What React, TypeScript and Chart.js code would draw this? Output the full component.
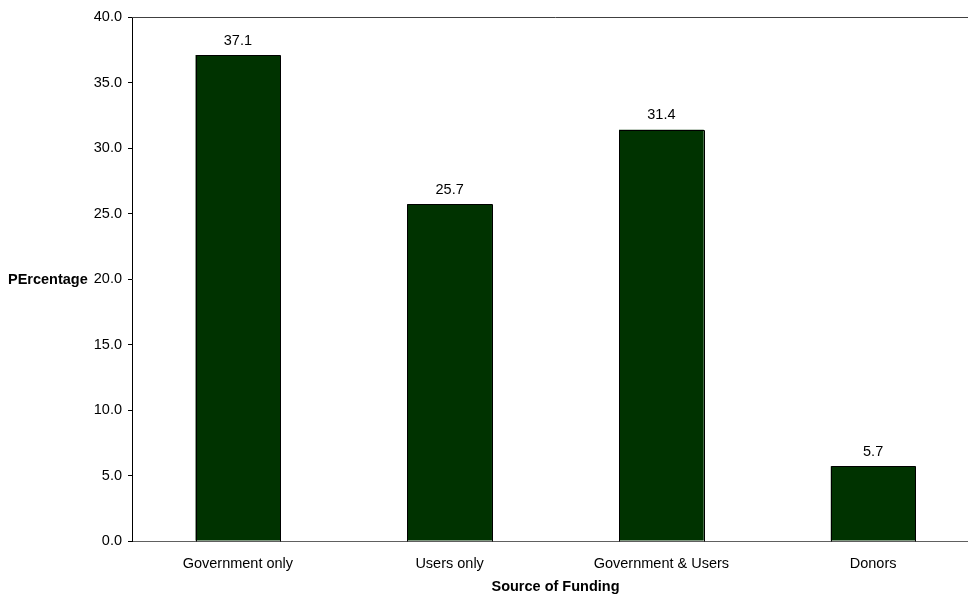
import React, { useEffect, useRef } from "react";
import { Chart, registerables } from "chart.js";

Chart.register(...registerables);

const categories = ["Government only", "Users only", "Government & Users", "Donors"];
const values = [37.1, 25.7, 31.4, 5.7];
const yTicks = [0, 5, 10, 15, 20, 25, 30, 35, 40];
const yTitle = "PErcentage";
const xTitle = "Source of Funding";

const FONT = "'Liberation Sans', Arial, sans-serif";
const FS = 14.5;

const extrasPlugin = {
  id: "extras",
  afterDatasetsDraw(chart: any) {
    const { ctx, chartArea } = chart;
    ctx.save();
    const meta = chart.getDatasetMeta(0);
    // crisp bar outlines
    ctx.strokeStyle = "#000";
    ctx.lineWidth = 1;
    meta.data.forEach((bar: any) => {
      const half = bar.width / 2;
      const l = Math.round(bar.x - half) + 0.5;
      const r = Math.round(bar.x + half) + 0.5;
      const t = Math.round(bar.y) + 0.5;
      const b = Math.round(bar.base) + 0.5;
      ctx.beginPath();
      ctx.moveTo(l, b);
      ctx.lineTo(l, t);
      ctx.lineTo(r, t);
      ctx.lineTo(r, b);
      ctx.stroke();
    });
    // top border
    ctx.strokeStyle = "#404040";
    ctx.beginPath();
    ctx.moveTo(chartArea.left, Math.round(chartArea.top) + 0.5);
    ctx.lineTo(chartArea.right, Math.round(chartArea.top) + 0.5);
    ctx.stroke();
    // value labels
    ctx.fillStyle = "#000";
    ctx.font = `${FS}px ${FONT}`;
    ctx.textAlign = "center";
    ctx.textBaseline = "bottom";
    meta.data.forEach((bar: any, i: number) => {
      ctx.fillText(values[i].toFixed(1), bar.x, bar.y - 7);
    });
    // y title
    const yScale = chart.scales.y;
    ctx.font = `bold ${FS}px ${FONT}`;
    ctx.textAlign = "left";
    ctx.textBaseline = "middle";
    ctx.fillText(yTitle, 8, yScale.getPixelForValue(20) + 1);
    // x title
    ctx.textAlign = "center";
    ctx.textBaseline = "middle";
    ctx.fillText(xTitle, (chartArea.left + chartArea.right) / 2, 587);
    ctx.restore();
  },
};

export default function App() {
  const ref = useRef<HTMLCanvasElement | null>(null);
  useEffect(() => {
    if (!ref.current) return;
    const chart = new Chart(ref.current, {
      type: "bar",
      data: {
        labels: categories,
        datasets: [
          {
            data: values,
            backgroundColor: "#003300",
            borderWidth: 0,
            barPercentage: 0.8,
            categoryPercentage: 0.5,
          },
        ],
      },
      options: {
        animation: false,
        responsive: false,
        maintainAspectRatio: false,
        layout: { padding: { top: 17, right: 1, left: 0, bottom: 0 } },
        plugins: { legend: { display: false }, tooltip: { enabled: false } },
        scales: {
          x: {
            grid: { display: false },
            border: { color: "#606060", width: 1 },
            ticks: { color: "#000", font: { family: FONT, size: FS }, padding: 6, maxRotation: 0 },
            afterFit: (s: any) => {
              s.height = 55;
            },
          },
          y: {
            min: 0,
            max: 40,
            afterBuildTicks: (s: any) => {
              s.ticks = yTicks.map((v) => ({ value: v }));
            },
            grid: { drawOnChartArea: false, tickLength: 4, color: "#000" },
            border: { color: "#000", width: 1 },
            ticks: {
              color: "#000",
              font: { family: FONT, size: FS },
              padding: 6,
              callback: (v: any) => Number(v).toFixed(1),
            },
            afterFit: (s: any) => {
              s.width = 132;
            },
          },
        },
      },
      plugins: [extrasPlugin],
    });
    return () => chart.destroy();
  }, []);
  return (
    <div style={{ position: "fixed", left: 0, top: 0, width: 968, height: 596, overflow: "hidden", background: "#fff" }}>
      <canvas ref={ref} width={980} height={596} style={{ display: "block", width: 980, height: 596 }} />
    </div>
  );
}
